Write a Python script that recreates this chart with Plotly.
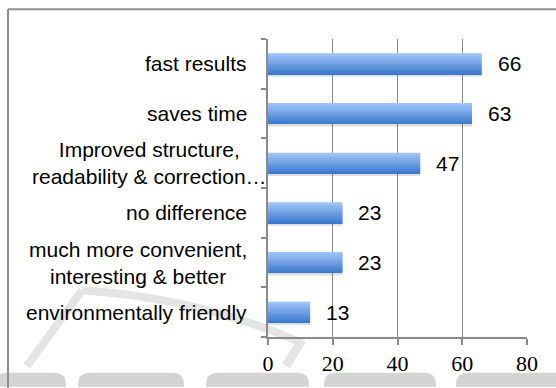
import plotly.graph_objects as go

# ---- data ----
categories = [
    "environmentally friendly",
    "much more convenient,<br>interesting & better",
    "no difference",
    "Improved structure,<br>readability & correction…",
    "saves time",
    "fast results",
]
values = [13, 23, 23, 47, 63, 66]
x_ticks = [0, 20, 40, 60, 80]

# ---- style ----
W, H = 556, 388
L, R, T, B = 268, 29, 39, 49
GREY = "#8a8a8a"
SANS = "Liberation Sans, Arial, sans-serif"
SERIF = "Liberation Serif, Times New Roman, serif"
BAR_W = 0.42
N_BANDS = 12
dark = (0x3B, 0x79, 0xCC)
light = (0x9C, 0xC2, 0xF7)

pw = W - L - R
ph = H - T - B


def px(x, y):
    """pixel position -> paper coordinates"""
    return (x - L) / pw, 1 - (y - T) / ph


fig = go.Figure()

# soft shadow under bars
fig.add_trace(go.Bar(
    x=values, y=categories, orientation="h",
    width=BAR_W, offset=-BAR_W / 2 - 0.05,
    marker=dict(color="rgba(0,0,0,0.13)", line=dict(width=0)),
    hoverinfo="skip", showlegend=False,
))

# gradient bars built from horizontal bands
band = BAR_W / N_BANDS
for k in range(N_BANDS):
    t = k / (N_BANDS - 1)
    c = tuple(round(dark[i] + (light[i] - dark[i]) * t) for i in range(3))
    fig.add_trace(go.Bar(
        x=values, y=categories, orientation="h",
        width=band * 1.05, offset=-BAR_W / 2 + k * band,
        marker=dict(color="rgb(%d,%d,%d)" % c, line=dict(width=0)),
        hoverinfo="skip", showlegend=False,
    ))

annotations = []
for cat, v in zip(categories, values):
    annotations.append(dict(
        x=v, y=cat, xref="x", yref="y", text=str(v), showarrow=False,
        xanchor="left", yanchor="middle", xshift=14,
        font=dict(family=SANS, size=21, color="black"),
    ))
    shift = 1 if cat.endswith("…") else -19
    annotations.append(dict(
        x=0, y=cat, xref="paper", yref="y", text=cat, showarrow=False,
        xanchor="right", yanchor="middle", xshift=shift, align="center",
        font=dict(family=SANS, size=21, color="black"),
    ))

shapes = []

# faint background watermark (page decoration behind the chart)
WM = "#d4d4d4"
WM2 = "#e4e4e4"
blocks = [(-5, 66), (78, 184), (206, 309), (324, 436), (456, 570)]
for x0, x1 in blocks:
    a0, b0 = px(x0, 389)
    a1, b1 = px(x1, 375)
    r = 12
    ar, _ = px(x0 + r, 0)
    br, _ = px(x1 - r, 0)
    _, yr = px(0, 375 + r)
    path = (f"M {a0} {b0} L {a0} {yr} Q {a0} {b1} {ar} {b1} "
            f"L {br} {b1} Q {a1} {b1} {a1} {yr} L {a1} {b0} Z")
    shapes.append(dict(type="path", xref="paper", yref="paper", path=path,
                       fillcolor=WM, line=dict(width=0), layer="below"))

p1 = px(27, 368); p2 = px(82, 292)
shapes.append(dict(type="path", xref="paper", yref="paper",
                   path=f"M {p1[0]} {p1[1]} L {p2[0]} {p2[1]}",
                   line=dict(color=WM2, width=8), layer="below"))
q0 = px(82, 292); qc = px(200, 300); q1 = px(302, 345)
shapes.append(dict(type="path", xref="paper", yref="paper",
                   path=f"M {q0[0]} {q0[1]} Q {qc[0]} {qc[1]} {q1[0]} {q1[1]}",
                   line=dict(color=WM2, width=8), layer="below"))
s0 = px(302, 342); s1 = px(286, 368)
shapes.append(dict(type="path", xref="paper", yref="paper",
                   path=f"M {s0[0]} {s0[1]} L {s1[0]} {s1[1]}",
                   line=dict(color=WM2, width=9), layer="below"))

# page frame
fx0, fy0 = px(8, 9)
shapes += [
    dict(type="line", xref="paper", yref="paper", x0=fx0, x1=1.3, y0=fy0, y1=fy0,
         line=dict(color="#8f8f8f", width=2)),
    dict(type="line", xref="paper", yref="paper", x0=fx0, x1=fx0, y0=fy0, y1=-0.3,
         line=dict(color="#8f8f8f", width=2)),
]

fig.update_layout(
    width=W, height=H,
    margin=dict(l=L, r=R, t=T, b=B, pad=0),
    paper_bgcolor="white", plot_bgcolor="rgba(0,0,0,0)",
    barmode="overlay",
    showlegend=False,
    annotations=annotations,
    shapes=shapes,
    xaxis=dict(
        range=[0, 80], tickvals=x_ticks, ticktext=[str(v) for v in x_ticks],
        showgrid=True, gridcolor=GREY, gridwidth=1.3,
        showline=True, linecolor=GREY, linewidth=1.5,
        ticks="outside", ticklen=6, tickcolor=GREY, tickwidth=1.5,
        tickfont=dict(family=SERIF, size=22, color="black"),
        zeroline=False, fixedrange=True,
    ),
    yaxis=dict(
        type="category", categoryorder="array", categoryarray=categories,
        range=[-0.5, len(categories) - 0.5],
        showgrid=False, showline=True, linecolor=GREY, linewidth=1.5,
        ticks="outside", ticklen=5, tickcolor=GREY, tickwidth=1.5,
        tickson="boundaries", showticklabels=False,
        zeroline=False, fixedrange=True,
    ),
)

fig.write_html("out.html")
